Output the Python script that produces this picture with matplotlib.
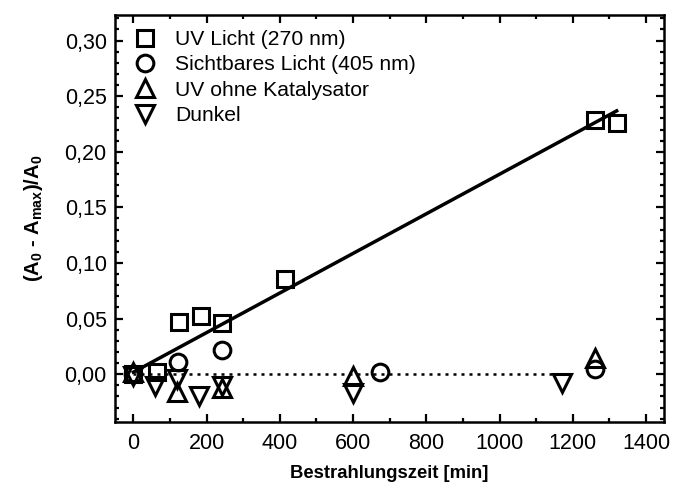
import numpy as np
import matplotlib.pyplot as plt
from matplotlib.ticker import MultipleLocator, FuncFormatter

plt.rcParams['font.family'] = ['Liberation Sans', 'DejaVu Sans']
plt.rcParams['mathtext.fontset'] = 'custom'
plt.rcParams['mathtext.rm'] = 'Liberation Sans'
plt.rcParams['mathtext.bf'] = 'Liberation Sans:bold'
plt.rcParams['mathtext.default'] = 'bf'

# data
uv_x = [0, 65, 125, 185, 242, 415, 1261, 1321]
uv_y = [0.000, 0.002, 0.047, 0.052, 0.046, 0.086, 0.229, 0.226]

vis_x = [0, 122, 242, 673, 1261]
vis_y = [0.000, 0.011, 0.022, 0.002, 0.005]

nocat_x = [0, 120, 242, 600, 1261]
nocat_y = [0.002, -0.016, -0.012, -0.002, 0.015]

dark_x = [0, 60, 120, 180, 242, 600, 1172]
dark_y = [-0.002, -0.011, -0.004, -0.020, -0.011, -0.017, -0.008]

# linear fit of UV series and zero baseline (as drawn)
fit_x = [0, 1320]
fit_slope = 0.000178
fit_icpt = 0.0018
base_x = [0, 1172]
base_y = [0, 0]

labels = ['UV Licht (270 nm)', 'Sichtbares Licht (405 nm)',
          'UV ohne Katalysator', 'Dunkel']

fig = plt.figure(figsize=(6.73, 4.91), dpi=100)
ax = fig.add_axes([0.171, 0.1405, 0.816, 0.829])

mk = dict(linestyle='none', markerfacecolor='none', markeredgecolor='black',
          markeredgewidth=2.2, color='black')
ax.plot(uv_x, uv_y, marker='s', markersize=12, label=labels[0], **mk)
ax.plot(vis_x, vis_y, marker='o', markersize=12, label=labels[1], **mk)
ax.plot(nocat_x, nocat_y, marker='^', markersize=13, label=labels[2], **mk)
ax.plot(dark_x, dark_y, marker='v', markersize=13, label=labels[3], **mk)

fx = np.array(fit_x)
ax.plot(fx, fit_icpt + fit_slope * fx, color='black', linewidth=2.5)
ax.plot(base_x, base_y, color='black', linewidth=1.8, linestyle=(0, (1.2, 2.0)))

ax.set_xlim(-50, 1450)
ax.set_ylim(-0.043, 0.323)
ax.xaxis.set_major_locator(MultipleLocator(200))
ax.xaxis.set_minor_locator(MultipleLocator(100))
ax.yaxis.set_major_locator(MultipleLocator(0.05))
ax.yaxis.set_minor_locator(MultipleLocator(0.01))
ax.yaxis.set_major_formatter(FuncFormatter(lambda v, p: f"{v:.2f}".replace('.', ',').replace('-0,00', '0,00')))

ax.tick_params(which='both', direction='in', top=True, right=True, width=1.6,
               labelsize=15.5)
ax.tick_params(which='major', length=6)
ax.tick_params(axis='x', which='major', pad=8)
ax.tick_params(axis='y', which='major', pad=6)
ax.tick_params(which='minor', length=3)
for s in ax.spines.values():
    s.set_linewidth(1.8)

ax.set_xlabel('Bestrahlungszeit [min]', fontsize=13.3, fontweight='bold', labelpad=8)
ax.set_ylabel(r'(A$_0$ - A$_{max}$)/A$_0$', fontsize=14.5, fontweight='bold', labelpad=14)

ax.legend(loc='upper left', bbox_to_anchor=(0.0, 1.01), frameon=False,
          numpoints=1, handlelength=1.0, handletextpad=0.95, labelspacing=0.3,
          fontsize=15.2, borderaxespad=0.5, borderpad=0.4)

fig.savefig('out.png', dpi=100)
